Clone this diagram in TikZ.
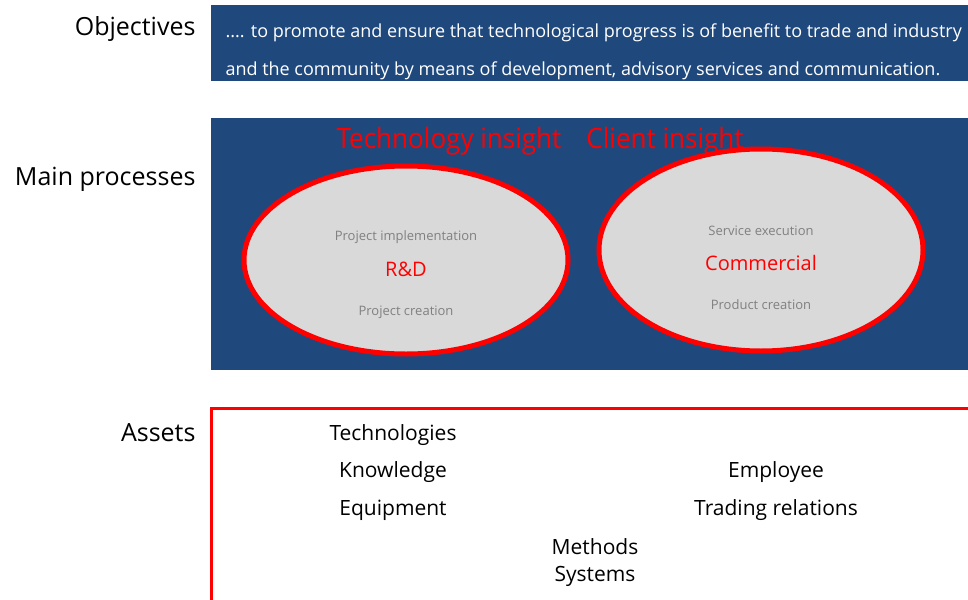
\documentclass[tikz,border=0pt]{standalone}
\usepackage{fontspec}
\setmainfont{Open Sans}
\definecolor{boxblue}{RGB}{31,73,125}
\definecolor{ovalgrey}{RGB}{217,217,217}
\definecolor{textgrey}{RGB}{128,128,128}
\tikzset{
  rowlabel/.style={anchor=east, font=\fontsize{25}{30}\selectfont},
  small/.style={text=textgrey, font=\fontsize{13}{16}\selectfont},
  asset/.style={font=\fontsize{21}{24}\selectfont}
}
\begin{document}
\begin{tikzpicture}[x=1pt, y=-1pt]
\useasboundingbox (0,0) rectangle (968,599);
% objectives
\fill[boxblue] (211,5) rectangle (968,81);
\node[rowlabel] (objl) at (199,29) {Objectives};
\node[anchor=west, text=white, font=\fontsize{18}{20}\selectfont] (obj1) at (222,33) {.... to promote and ensure that technological progress is of benefit to trade and industry};
\node[anchor=west, text=white, font=\fontsize{18}{20}\selectfont] (obj2) at (222,71) {and the community by means of development, advisory services and communication.};
% main processes
\fill[boxblue] (211,118) rectangle (968,370);
\node[rowlabel] (procl) at (199,179) {Main processes};
\node[text=red, font=\fontsize{28}{32}\selectfont, xscale=0.93] (tech) at (449,141) {Technology insight};
\node[text=red, font=\fontsize{28}{32}\selectfont, xscale=0.93] (client) at (665,141) {Client insight};
\draw[red, line width=5pt, fill=ovalgrey] (406,260) ellipse [x radius=162, y radius=94];
\draw[red, line width=5pt, fill=ovalgrey] (761,250) ellipse [x radius=162, y radius=101];
\node[small] (impl) at (406,237) {Project implementation};
\node[text=red, font=\fontsize{20}{24}\selectfont] (rd) at (406,269) {R\&D};
\node[small] (pcreate) at (406,312) {Project creation};
\node[small] (serv) at (761,231) {Service execution};
\node[text=red, font=\fontsize{20}{24}\selectfont] (comm) at (761,263) {Commercial};
\node[small] (prod) at (761,305) {Product creation};
% assets
\draw[red, line width=3pt] (211,600) -- (211,408) -- (970,408);
\node[rowlabel] (assl) at (199,433) {Assets};
\node[asset] (techs) at (393,435) {Technologies};
\node[asset] (know) at (393,472) {Knowledge};
\node[asset] (equip) at (393,510) {Equipment};
\node[asset] (empl) at (776,472) {Employee};
\node[asset] (trade) at (776,510) {Trading relations};
\node[asset] (meth) at (595,547) {Methods};
\node[asset] (sys) at (595,576) {Systems};
\end{tikzpicture}
\end{document}
